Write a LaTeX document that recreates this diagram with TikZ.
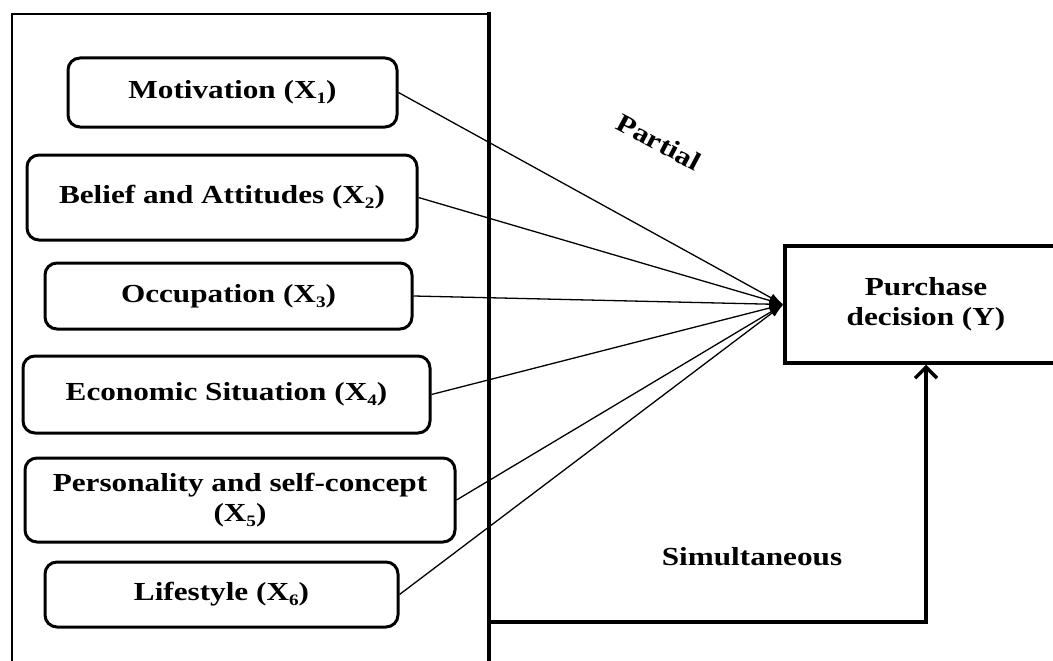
\documentclass[tikz,border=0pt]{standalone}
\usepackage{fontspec}
\setmainfont{Liberation Serif}[FakeStretch=1.2]
\usetikzlibrary{arrows,arrows.meta,positioning}
\newcommand\xsb[1]{\raisebox{-5pt}{\fontsize{16}{16}\selectfont #1}}

\begin{document}
\begin{tikzpicture}[x=1pt,y=-1pt]%
        \useasboundingbox (0,0) rectangle (1053,661);%%
        \clip (0,0) rectangle (1053,661);%%
        %% frame round the factors
        \draw[line width=1.5pt] (12,661) -- (12,14) -- (489,14);%%
        \draw[line width=3.5pt] (489,12.3) -- (489,661);%%
        \begin{scope}[rounded corners=12pt,line width=3pt]
        \tikzstyle{every node}=[draw,align=center,inner sep=0pt,font=\bfseries\fontsize{26}{30}\selectfont] %%
        \node[minimum width=329,minimum height=69] (x1) at (232.5,92.5) {Motivation (X\xsb{1})}; %%
        \node[minimum width=390,minimum height=85] (x2) at (222,197.5) {Belief and Attitudes (X\xsb{2})}; %%
        \node[minimum width=367,minimum height=66] (x3) at (228.5,296) {Occupation (X\xsb{3})}; %%
        \node[minimum width=407,minimum height=77] (x4) at (226.5,394.5) {Economic Situation (X\xsb{4})}; %%
        \node[minimum width=430,minimum height=84] (x5) at (240,500) {Personality and self-concept\\(X\xsb{5})}; %%
        \node[minimum width=353,minimum height=65] (x6) at (221.5,594.5) {Lifestyle (X\xsb{6})}; %%
        \end{scope}
        \begin{scope}[line width=3.5pt]
        \tikzstyle{every node}=[draw,align=center,inner sep=0pt,font=\bfseries\fontsize{26}{30}\selectfont] %%
        \node[minimum width=282,minimum height=117] (y) at (926,304.5) {Purchase\\decision (Y)}; %%
        \end{scope}
        \tikzstyle{every node}=[font=\bfseries\fontsize{26}{30}\selectfont] %%
        \node[rotate=-28] (partial) at (659,142) {Partial}; %%
        \node (simul) at (752,557) {Simultaneous}; %%
        \coordinate (s0) at (489,622); %%
        \draw[-{Latex[length=14pt,width=9pt]},line width=1.3pt] (x1.east)--(y.west);  %%
        \draw[-{Latex[length=14pt,width=9pt]},line width=1.3pt] (x2.east)--(y.west);  %%
        \draw[-{Latex[length=14pt,width=9pt]},line width=1.3pt] (x3.east)--(y.west);  %%
        \draw[-{Latex[length=14pt,width=9pt]},line width=1.3pt] (x4.east)--(y.west);  %%
        \draw[-{Latex[length=14pt,width=9pt]},line width=1.3pt] (x5.east)--(y.west);  %%
        \draw[-{Latex[length=14pt,width=9pt]},line width=1.3pt] (x6.east)--(y.west);  %%
        \draw[-{Straight Barb[length=11pt,width=22pt]},line width=3.5pt] (s0) -| (y.south); %%
        \end{tikzpicture}
\end{document}
